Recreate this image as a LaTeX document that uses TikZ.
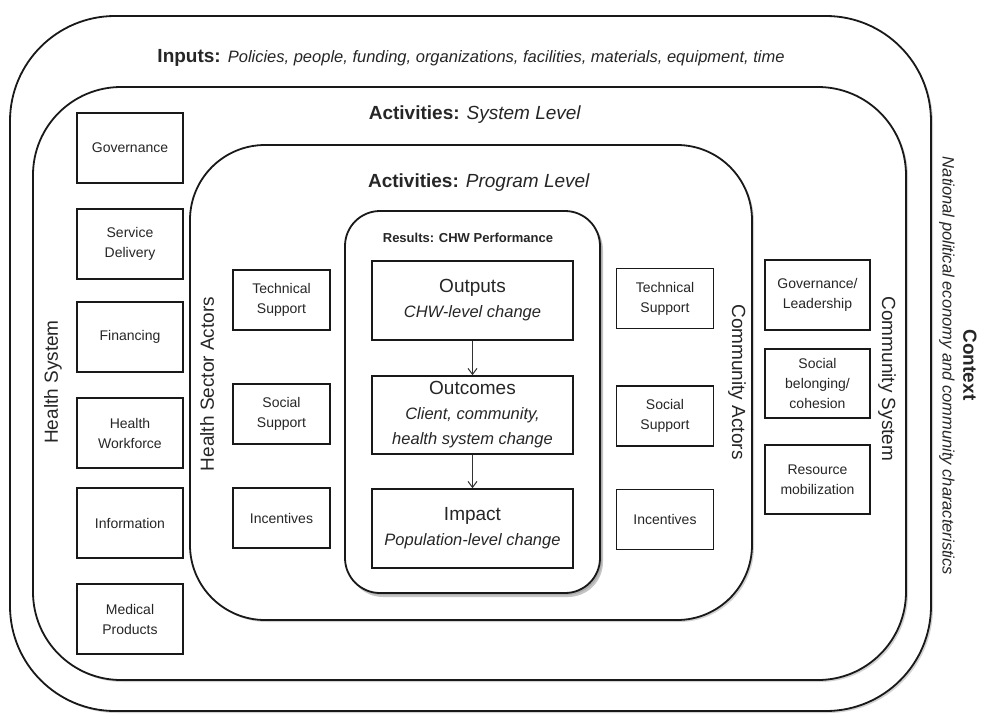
\documentclass[tikz,border=0pt]{standalone}
\usepackage{fontspec}
\setmainfont{Liberation Sans}
\usetikzlibrary{shadows,arrows.meta}
\newcommand\resit{\fontsize{16.5}{25}\selectfont\itshape}

\begin{document}
\begin{tikzpicture}[x=1pt,y=-1pt,font=\fontsize{14}{20}\selectfont,text=black!85,
  frame/.style={draw=black!90,fill=white,line width=1.8pt,rounded corners=#1,
    drop shadow={shadow xshift=2pt,shadow yshift=-2pt,fill=black!35}},
  hsbox/.style={draw=black!90,line width=1.6pt,align=center,inner sep=0pt,
    minimum width=106,minimum height=70},
  actbox/.style={draw=black!90,line width=1.6pt,align=center,inner sep=0pt,
    minimum width=97,minimum height=60},
  resbox/.style={draw=black!90,line width=1.6pt,align=center,inner sep=0pt,
    minimum width=201,minimum height=79,font=\fontsize{19}{25}\selectfont},
  side/.style={font=\fontsize{19}{22}\selectfont},
  head/.style={font=\fontsize{19}{22}\selectfont}]

\useasboundingbox (0,0) rectangle (989,716);

%Frames
\draw[frame=105] (10,16) rectangle (931,711);
\draw[frame=88] (33,87) rectangle (906,680);
\draw[frame=75] (190,145) rectangle (752,620);
\draw[frame=35,drop shadow={shadow xshift=3pt,shadow yshift=-4pt,fill=black!45}] (345,211) rectangle (600,593);

\node[head] (inputs) at (471,58) {\textbf{Inputs:} {\fontsize{16.5}{18}\selectfont\itshape Policies, people, funding, organizations, facilities, materials, equipment, time}};
\node[head] (syslevel) at (475,115) {\textbf{Activities:} \textit{System Level}};
\node[head] (proglevel) at (479,183) {\textbf{Activities:} \textit{Program Level}};
\node[font=\fontsize{13}{16}\selectfont\bfseries] (results) at (468,238) {Results: CHW Performance};

%Health system
\node[side,rotate=90] (healthsys) at (53,382) {Health System};
\node[hsbox] (gov) at (130,148) {Governance};
\node[hsbox] (service) at (130,244) {Service\\Delivery};
\node[hsbox] (financing) at (130,337) {Financing};
\node[hsbox] (workforce) at (130,433) {Health\\Workforce};
\node[hsbox] (information) at (130,523) {Information};
\node[hsbox] (medical) at (130,619) {Medical\\Products};

%Health sector actors
\node[side,rotate=90] (hsactors) at (207,384) {Health Sector Actors};
\node[actbox] (hstech) at (281.5,300) {Technical\\Support};
\node[actbox] (hssocial) at (281.5,414) {Social\\Support};
\node[actbox] (hsincent) at (281.5,518) {Incentives};

%Results
\node[resbox] (outputs) at (472.5,300.5) {Outputs\\{\resit CHW-level change}};
\node[resbox,minimum height=78] (outcomes) at (472.5,415) {Outcomes\\{\resit Client, community,}\\{\resit health system change}};
\node[resbox] (impact) at (472.5,528.5) {Impact\\{\resit Population-level change}};
\draw[-{Straight Barb[length=6pt,width=9pt]},line width=1pt,black!80] (outputs) -- (outcomes);
\draw[-{Straight Barb[length=6pt,width=9pt]},line width=1pt,black!80] (outcomes) -- (impact);

%Community actors
\node[side,rotate=-90] (comactors) at (737,382) {Community Actors};
\node[actbox] (ctech) at (665,298.5) {Technical\\Support};
\node[actbox] (csocial) at (665,416) {Social\\Support};
\node[actbox] (cincent) at (665,519.5) {Incentives};

%Community system
\node[side,rotate=-90] (comsys) at (887,379) {Community System};
\node[hsbox,minimum width=105] (cgov) at (817.5,295) {Governance/\\Leadership};
\node[hsbox,minimum width=105,minimum height=69] (cbelong) at (817.5,383.5) {Social\\belonging/\\cohesion};
\node[hsbox,minimum width=105,minimum height=69] (cresource) at (817.5,479.5) {Resource\\mobilization};

%Context
\node[font=\fontsize{19}{22}\selectfont\bfseries,rotate=-90] (context) at (970,365) {Context};
\node[font=\fontsize{16.5}{18}\selectfont\itshape,rotate=-90] (national) at (947,366) {National political economy and community characteristics};

\end{tikzpicture}
\end{document}
